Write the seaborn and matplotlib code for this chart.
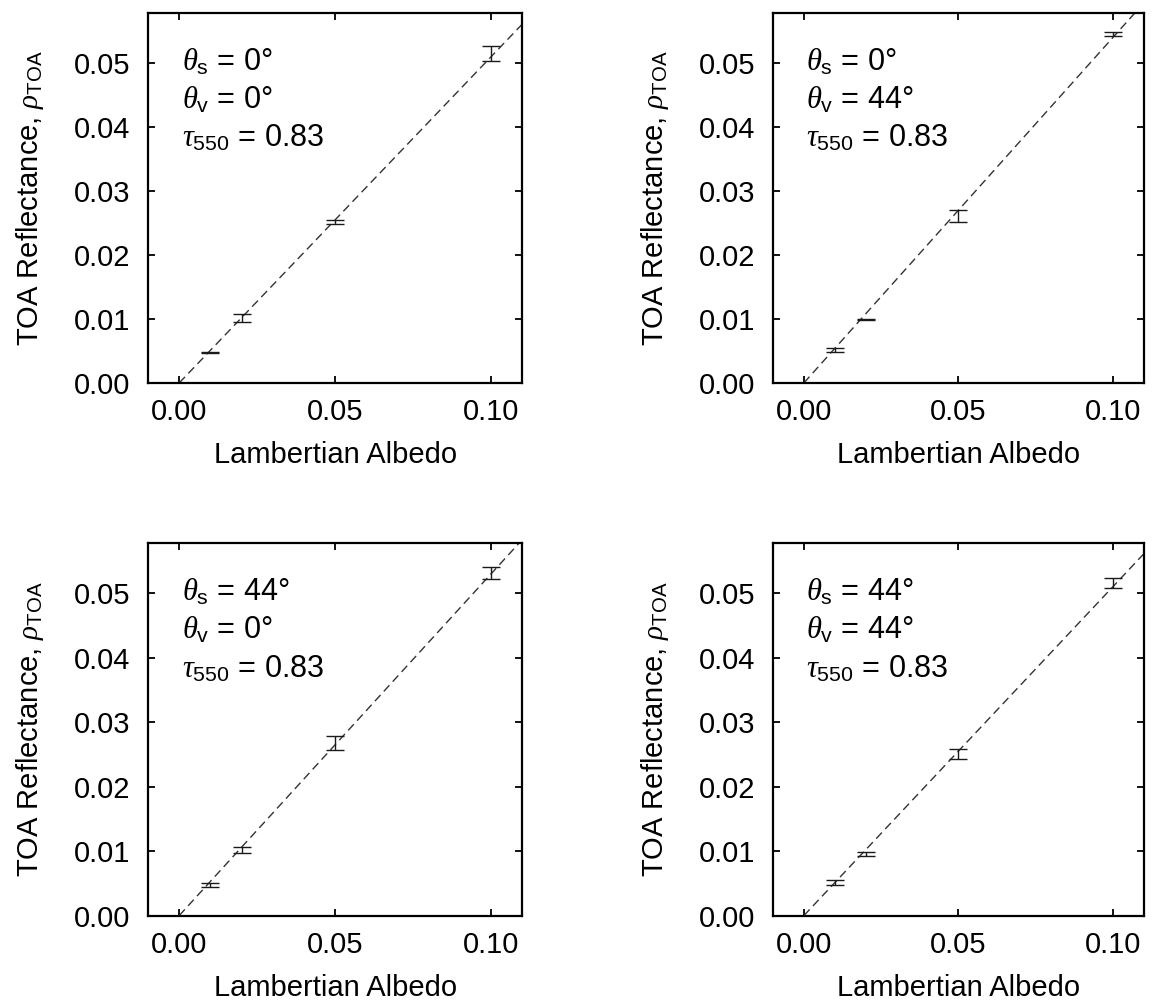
import numpy as np
import matplotlib
matplotlib.use('Agg')
import matplotlib.pyplot as plt
import seaborn as sns

# surface albedo of the four test cases
albedo = [0.01, 0.02, 0.05, 0.10]

# TOA reflectance (mean) and error half-width per geometry
rho_s0_v0 = [0.0048, 0.0101, 0.0252, 0.0515]
err_s0_v0 = [0.0001, 0.0006, 0.0003, 0.0012]
rho_s0_v44 = [0.0051, 0.0099, 0.0261, 0.0545]
err_s0_v44 = [0.0003, 0.0001, 0.0009, 0.0003]
rho_s44_v0 = [0.0047, 0.0102, 0.0268, 0.0531]
err_s44_v0 = [0.0003, 0.0005, 0.0011, 0.0010]
rho_s44_v44 = [0.0051, 0.0095, 0.0250, 0.0516]
err_s44_v44 = [0.0004, 0.0003, 0.0008, 0.0008]

# slope of the dashed reference line in each panel
slopes = [0.51, 0.54, 0.53, 0.51]

theta_s = ['0°', '0°', '44°', '44°']
theta_v = ['0°', '44°', '0°', '44°']
tau = '0.83'

x_ticks = [0.00, 0.05, 0.10]
y_ticks = [0.00, 0.01, 0.02, 0.03, 0.04, 0.05]

sns.set_theme(style='ticks')
plt.rcParams['font.family'] = ['Liberation Sans', 'DejaVu Sans']
plt.rcParams['text.color'] = 'black'
plt.rcParams['axes.labelcolor'] = 'black'
plt.rcParams['mathtext.fontset'] = 'custom'
plt.rcParams['mathtext.rm'] = 'Liberation Sans'
plt.rcParams['mathtext.sf'] = 'Liberation Sans'
plt.rcParams['mathtext.it'] = 'Liberation Serif:italic'
plt.rcParams['mathtext.bf'] = 'Liberation Sans:bold'

FS = 21
fig = plt.figure(figsize=(11.52, 10.05), dpi=100)

rects = [
    [0.1285, 0.619, 0.325, 0.368],
    [0.671, 0.619, 0.322, 0.368],
    [0.1285, 0.089, 0.325, 0.371],
    [0.671, 0.089, 0.322, 0.371],
]
rhos = [rho_s0_v0, rho_s0_v44, rho_s44_v0, rho_s44_v44]
errs = [err_s0_v0, err_s0_v44, err_s44_v0, err_s44_v44]

fit_x = np.array([0.0, 0.12])

for i in range(4):
    ax = fig.add_axes(rects[i])
    sns.lineplot(x=fit_x, y=slopes[i] * fit_x, ax=ax, color='#333333',
                 linewidth=1.0, linestyle=(0, (6, 3.5)))
    ax.errorbar(albedo, rhos[i], yerr=errs[i], fmt='none', ecolor='#1a1a1a',
                elinewidth=1.0, capsize=6.5, capthick=1.0)

    ax.set_xlim(-0.01, 0.11)
    ax.set_ylim(0.0, 0.0578)
    ax.set_xticks(x_ticks)
    ax.set_yticks(y_ticks)
    ax.set_xticklabels([f'{v:.2f}' for v in x_ticks])
    ax.set_yticklabels([f'{v:.2f}' for v in y_ticks])
    ax.tick_params(axis='both', direction='in', top=True, right=True,
                   length=5, width=1.3, labelsize=FS, colors='black')
    ax.tick_params(axis='x', pad=11)
    ax.tick_params(axis='y', pad=13)
    for sp in ax.spines.values():
        sp.set_linewidth(1.6)
        sp.set_color('black')

    ax.set_xlabel('Lambertian Albedo', fontsize=FS, labelpad=11)
    ax.set_ylabel(r'TOA Reflectance, $\rho_{\rm TOA}$', fontsize=FS, labelpad=20)

    ax.text(0.09, 0.846, r'$\theta_{\rm s}$ = ' + theta_s[i], transform=ax.transAxes,
            fontsize=22, va='baseline', ha='left')
    ax.text(0.09, 0.743, r'$\theta_{\rm v}$ = ' + theta_v[i], transform=ax.transAxes,
            fontsize=22, va='baseline', ha='left')
    ax.text(0.09, 0.638, r'$\tau_{550}$ = ' + tau, transform=ax.transAxes,
            fontsize=22, va='baseline', ha='left')

plt.savefig('out.png', dpi=100)
